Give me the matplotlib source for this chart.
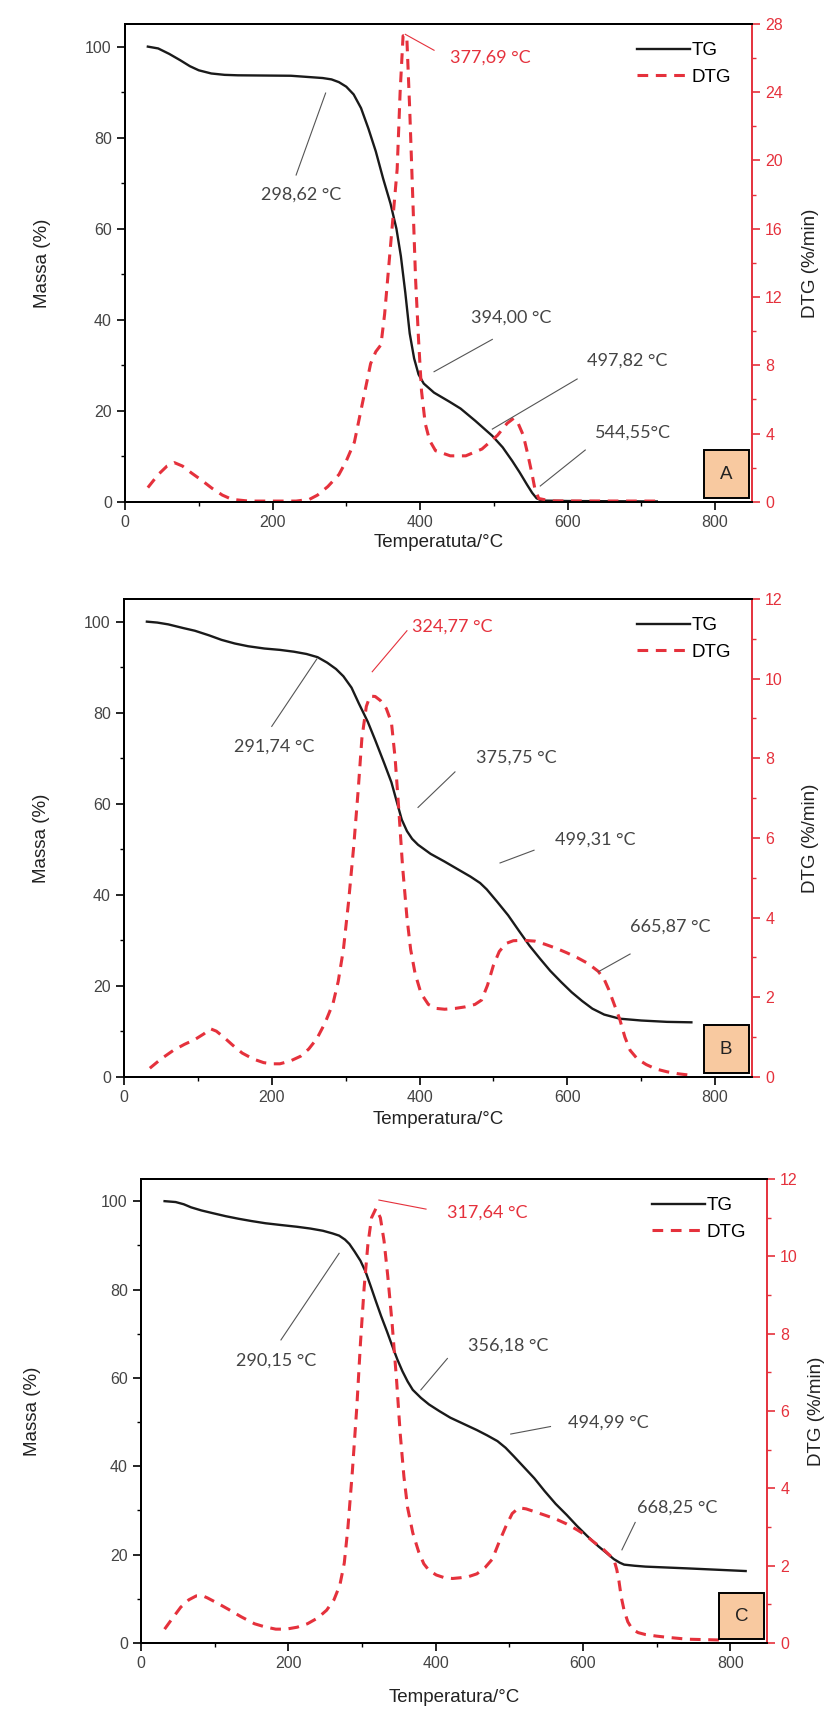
import matplotlib.pyplot as plt
from matplotlib.patches import Rectangle
from matplotlib.ticker import MultipleLocator

RED = '#e5313c'
GRAY = '#444444'

# ---- panel A ----
tg_a_t = [31, 45, 60, 75, 88, 100, 117, 135, 153, 225, 268, 280, 290, 300, 310, 320, 330, 340, 350, 360, 368, 374, 380, 386, 392, 398, 405, 419, 440, 455, 475, 498, 512, 525, 535, 545, 552, 558, 565, 600, 721]
tg_a_m = [100, 99.6, 98.4, 97, 95.7, 94.8, 94.1, 93.8, 93.7, 93.6, 93.1, 92.8, 92.2, 91.2, 89.5, 86.5, 82, 77, 71, 65.5, 60, 54, 46, 37, 31.5, 28, 26, 24, 22, 20.5, 17.8, 14.5, 12, 9, 6.5, 3.8, 2, 0.8, 0.3, 0.2, 0.1]
dtg_a_t = [31, 45, 57, 67, 78, 90, 103, 118, 132, 145, 168, 232, 250, 261, 275, 290, 300, 311, 322, 333, 340, 347, 352, 357, 362, 369, 373, 377, 382, 386, 390, 394, 398, 402, 407, 413, 421, 441, 462, 484, 505, 518, 527, 533, 540, 546, 552, 556, 561, 577, 721]
dtg_a_v = [0.84, 1.6, 2.1, 2.3, 2.1, 1.7, 1.3, 0.8, 0.4, 0.15, 0.05, 0.05, 0.15, 0.4, 0.9, 1.6, 2.4, 3.5, 5.8, 8.1, 8.8, 9.2, 11, 13.5, 16, 19.5, 24, 27.3, 27.3, 23, 18, 13, 9.5, 6.5, 4.6, 3.6, 3.0, 2.7, 2.7, 3.1, 3.9, 4.6, 4.9, 4.6, 3.9, 2.8, 1.6, 0.7, 0.2, 0.06, 0.05]

# ---- panel B ----
tg_b_t = [31, 45, 60, 80, 96, 115, 132, 150, 168, 190, 211, 230, 247, 262, 275, 287, 297, 308, 318, 330, 340, 352, 362, 370, 376, 383, 390, 398, 415, 434, 452, 469, 482, 491, 505, 520, 535, 549, 563, 577, 592, 606, 620, 634, 650, 671, 700, 735, 768]
tg_b_m = [100, 99.8, 99.4, 98.6, 98, 97, 96, 95.2, 94.6, 94.1, 93.8, 93.4, 92.9, 92.2, 91, 89.6, 88, 85.5, 82, 78, 74, 69, 64.7, 60, 56.5, 54, 52.3, 51, 49, 47.3, 45.6, 44, 42.6, 41.2, 38.5, 35.5, 32, 28.8, 26, 23.3, 20.8, 18.6, 16.7, 15, 13.7, 12.8, 12.4, 12.1, 12]
dtg_b_t = [35, 50, 67, 82, 96, 108, 117, 125, 135, 147, 160, 175, 189, 200, 211, 225, 239, 250, 261, 272, 283, 290, 297, 304, 311, 317, 322, 328, 333, 340, 347, 355, 362, 367, 372, 377, 383, 388, 394, 402, 412, 423, 434, 448, 462, 475, 484, 492, 500, 508, 517, 527, 540, 556, 570, 585, 599, 613, 628, 642, 650, 656, 663, 671, 678, 685, 695, 707, 720, 735, 750, 764]
dtg_b_v = [0.22, 0.45, 0.67, 0.82, 0.94, 1.08, 1.21, 1.15, 1.0, 0.8, 0.6, 0.45, 0.36, 0.33, 0.33, 0.4, 0.52, 0.7, 0.96, 1.35, 1.85, 2.4, 3.2, 4.4, 5.8, 7.2, 8.5, 9.3, 9.56, 9.55, 9.45, 9.25, 8.9, 8.0, 6.7, 5.3, 4.0, 3.2, 2.6, 2.1, 1.82, 1.72, 1.7, 1.72, 1.76, 1.82, 1.93, 2.3, 2.8, 3.15, 3.35, 3.42, 3.43, 3.41, 3.33, 3.23, 3.12, 3.0, 2.85, 2.65, 2.45, 2.2, 1.85, 1.45, 1.0, 0.67, 0.45, 0.31, 0.2, 0.13, 0.08, 0.05]

# ---- panel C ----
tg_c_t = [32, 47, 58, 68, 82, 97, 115, 133, 150, 169, 190, 212, 230, 247, 260, 269, 277, 283, 290, 298, 305, 312, 319, 326, 334, 341, 348, 355, 362, 369, 380, 391, 405, 420, 438, 456, 470, 484, 495, 506, 520, 534, 548, 563, 578, 592, 606, 621, 632, 642, 650, 656, 670, 685, 742, 821]
tg_c_m = [100, 99.8, 99.3, 98.6, 97.9, 97.3, 96.6, 96, 95.5, 95, 94.6, 94.2, 93.8, 93.3, 92.7, 92.2, 91.3, 90.3, 88.6, 86.5, 84, 80.7, 77.3, 74, 70.5, 67.3, 64.2, 61.5, 59.2, 57.3, 55.5, 54, 52.5, 51, 49.6, 48.2, 47, 45.7, 44.2, 42.3, 39.8, 37.3, 34.4, 31.5, 29, 26.5, 24.2, 21.9, 20.4, 19, 18.2, 17.75, 17.5, 17.3, 16.9, 16.3]
dtg_c_t = [32, 43, 54, 65, 75, 84, 90, 104, 118, 136, 154, 168, 183, 197, 212, 226, 240, 252, 262, 270, 276, 281, 287, 293, 298, 303, 308, 313, 319, 325, 330, 335, 341, 347, 352, 357, 362, 369, 377, 384, 391, 401, 412, 423, 434, 445, 456, 467, 477, 486, 495, 504, 513, 523, 534, 548, 563, 578, 592, 603, 613, 628, 642, 646, 649, 652, 656, 661, 667, 675, 685, 700, 714, 742, 785]
dtg_c_v = [0.36, 0.65, 0.93, 1.12, 1.22, 1.22, 1.17, 1.03, 0.88, 0.68, 0.5, 0.42, 0.36, 0.36, 0.41, 0.5, 0.65, 0.85, 1.12, 1.5, 2.07, 3.0, 4.45, 6.1, 7.77, 9.2, 10.3, 11.0, 11.24, 11.0, 10.4, 9.5, 8.25, 6.8, 5.4, 4.3, 3.5, 2.85, 2.36, 2.05, 1.88, 1.76, 1.69, 1.67, 1.69, 1.72, 1.79, 1.95, 2.17, 2.6, 3.0, 3.35, 3.5, 3.47, 3.4, 3.31, 3.21, 3.08, 2.93, 2.8, 2.64, 2.42, 2.17, 1.9, 1.6, 1.2, 0.84, 0.55, 0.36, 0.27, 0.22, 0.18, 0.15, 0.1, 0.08]

# annotations: (text, text x, text y, line x0, y0, x1, y1, red?)  in TG coordinates
notes_a = [('377,69 °C', 441, 97.6, 380, 102.7, 419, 99.2, True),
           ('298,62 °C', 239, 67.5, 232, 71.8, 272, 89.8, False),
           ('394,00 °C', 523, 40.4, 498, 35.7, 419, 28.6, False),
           ('497,82 °C', 681, 31.0, 613, 27.0, 498, 16.0, False),
           ('544,55°C', 689, 15.3, 624, 11.4, 563, 3.5, False)]
notes_b = [('324,77 °C', 390, 98.8, 336, 89.0, 383, 98.0, True),
           ('291,74 °C', 203, 72.5, 200, 77.0, 261, 91.8, False),
           ('375,75 °C', 531, 70.2, 448, 67.0, 398, 59.2, False),
           ('499,31 °C', 638, 52.2, 555, 49.8, 509, 47.0, False),
           ('665,87 °C', 739, 33.0, 685, 27.0, 642, 23.1, False)]
notes_c = [('317,64 °C', 416, 97.3, 323, 100.25, 387, 98.2, True),
           ('290,15 °C', 183, 64.0, 190, 68.6, 269, 88.2, False),
           ('356,18 °C', 499, 67.3, 416, 64.4, 380, 57.3, False),
           ('494,99 °C', 635, 49.8, 556, 49.0, 502, 47.3, False),
           ('668,25 °C', 728, 30.7, 671, 27.3, 653, 21.1, False)]

panels = [
    dict(rect=[0.1504, 0.7075, 0.7545, 0.2786], tg=(tg_a_t, tg_a_m), dtg=(dtg_a_t, dtg_a_v),
         dmax=28, dmaj=4, notes=notes_a, letter='A', xlabel='Temperatuta/°C', ylx=-0.118, yrx=1.08, xpad=3),
    dict(rect=[0.1492, 0.3724, 0.7557, 0.2786], tg=(tg_b_t, tg_b_m), dtg=(dtg_b_t, dtg_b_v),
         dmax=12, dmaj=2, notes=notes_b, letter='B', xlabel='Temperatura/°C', ylx=-0.118, yrx=1.08, xpad=4),
    dict(rect=[0.1697, 0.0425, 0.7533, 0.2704], tg=(tg_c_t, tg_c_m), dtg=(dtg_c_t, dtg_c_v),
         dmax=12, dmaj=2, notes=notes_c, letter='C', xlabel='Temperatura/°C', ylx=-0.16, yrx=1.065, xpad=13),
]

plt.rcParams['font.family'] = ['Liberation Sans', 'DejaVu Sans']
fig = plt.figure(figsize=(8.31, 17.16), dpi=100)

for p in panels:
    ax = fig.add_axes(p['rect'])
    ax2 = ax.twinx()
    l1, = ax.plot(*p['tg'], color='#1a1a1a', lw=1.7, label='TG', solid_joinstyle='round')
    l2, = ax2.plot(*p['dtg'], color=RED, lw=2.2, ls=(0, (3.5, 2.5)), label='DTG')
    ax.set_xlim(0, 850)
    ax.set_ylim(0, 105)
    ax2.set_ylim(0, p['dmax'] * 1.0)
    ax.xaxis.set_major_locator(MultipleLocator(200))
    ax.xaxis.set_minor_locator(MultipleLocator(100))
    ax.yaxis.set_major_locator(MultipleLocator(20))
    ax.yaxis.set_minor_locator(MultipleLocator(10))
    ax2.yaxis.set_major_locator(MultipleLocator(p['dmaj']))
    ax2.yaxis.set_minor_locator(MultipleLocator(p['dmaj'] / 2))
    ax.tick_params(which='major', direction='out', length=6, width=1.2, labelsize=11.5, labelcolor=GRAY)
    ax.tick_params(which='minor', direction='out', length=3, width=1)
    ax2.tick_params(which='major', direction='out', length=6, width=1.2, labelsize=11.5, colors=RED)
    ax2.tick_params(which='minor', direction='out', length=3, width=1, colors=RED)
    for s in ['left', 'bottom', 'top']:
        ax.spines[s].set_linewidth(1.4)
        ax2.spines[s].set_linewidth(1.4)
    ax2.spines['right'].set_color(RED)
    ax2.spines['right'].set_linewidth(1.4)
    ax.spines['right'].set_visible(False)

    ax.set_xlabel(p['xlabel'], fontsize=13.5, color='#222222', labelpad=p['xpad'])
    ax.set_ylabel('Massa (%)', fontsize=13.5, color='#222222')
    ax.yaxis.set_label_coords(p['ylx'], 0.5)
    ax2.set_ylabel('DTG (%/min)', fontsize=13.5, color='#222222')
    ax2.yaxis.set_label_coords(p['yrx'], 0.5)

    for txt, tx, ty, x0, y0, x1, y1, red in p['notes']:
        c = RED if red else GRAY
        ha = 'left' if red else 'center'
        ax2.plot([x0, x1], [y0, y1], color=c if red else '#555555', lw=0.8, transform=ax.transData)
        ax2.text(tx, ty, txt, color=c, fontsize=13, ha=ha, va='center', family=['Lato', 'DejaVu Sans'],
                 transform=ax.transData)

    ax2.legend([l1, l2], ['TG', 'DTG'], loc='upper right', bbox_to_anchor=(0.985, 0.985), frameon=False,
               fontsize=13.5, handlelength=2.8, handletextpad=0.1, labelspacing=0.5, borderaxespad=0.2)

    ax2.add_patch(Rectangle((0.923, 0.008), 0.072, 0.1, transform=ax2.transAxes, facecolor='#f8c9a0',
                            edgecolor='black', lw=1.4, zorder=5, clip_on=False))
    ax2.text(0.959, 0.058, p['letter'], transform=ax2.transAxes, ha='center', va='center', fontsize=13.5,
             color='#222222', zorder=6)

fig.savefig('out.png', dpi=100)
